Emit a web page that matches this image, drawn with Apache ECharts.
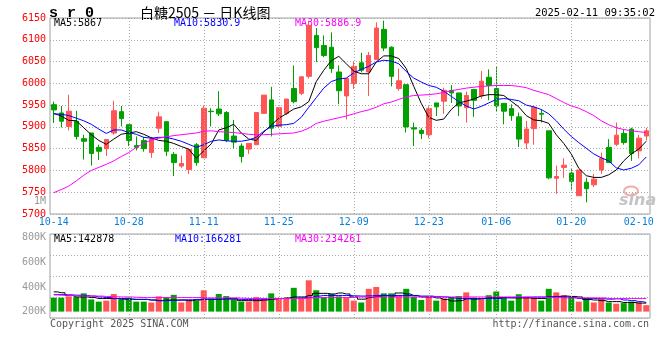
<!DOCTYPE html>
<html><head><meta charset="utf-8">
<script src="https://cdn.jsdelivr.net/npm/echarts@6/dist/echarts.min.js"></script>
<style>html,body{margin:0;padding:0;background:#fff}#c{width:660px;height:360px}</style>
</head><body><div id="c"></div>
<script>
// ---------- data ----------
const dates = [
 '2024-10-14','2024-10-15','2024-10-16','2024-10-17','2024-10-18','2024-10-21','2024-10-22','2024-10-23','2024-10-24','2024-10-25',
 '2024-10-28','2024-10-29','2024-10-30','2024-10-31','2024-11-01','2024-11-04','2024-11-05','2024-11-06','2024-11-07','2024-11-08',
 '2024-11-11','2024-11-12','2024-11-13','2024-11-14','2024-11-15','2024-11-18','2024-11-19','2024-11-20','2024-11-21','2024-11-22',
 '2024-11-25','2024-11-26','2024-11-27','2024-11-28','2024-11-29','2024-12-02','2024-12-03','2024-12-04','2024-12-05','2024-12-06',
 '2024-12-09','2024-12-10','2024-12-11','2024-12-12','2024-12-13','2024-12-16','2024-12-17','2024-12-18','2024-12-19','2024-12-20',
 '2024-12-23','2024-12-24','2024-12-25','2024-12-26','2024-12-27','2024-12-30','2024-12-31','2025-01-02','2025-01-03','2025-01-06',
 '2025-01-07','2025-01-08','2025-01-09','2025-01-10','2025-01-13','2025-01-14','2025-01-15','2025-01-16','2025-01-17','2025-01-20',
 '2025-01-21','2025-01-22','2025-01-23','2025-01-24','2025-01-27','2025-02-05','2025-02-06','2025-02-07','2025-02-10','2025-02-11'
];
const labelDates = ['2024-10-14','2024-10-28','2024-11-11','2024-11-25','2024-12-09','2024-12-23','2025-01-06','2025-01-20','2025-02-10'];
const gridDates  = ['2024-10-28','2024-11-11','2024-11-25','2024-12-09','2024-12-23','2025-01-06','2025-01-20'];

const opens  = [5951,5932,5901,5913,5873,5886,5853,5850,5886,5935, 5905,5857,5869,5841,5897,5912,5837,5810,5802,5859,
                5829,5936,5941,5933,5879,5856,5849,5859,5931,5962, 5901,5931,5988,5977,6016,6110,6087,6083,6026,5971,
                6000,6047,6026,6055,6124,6083,5988,5997,5898,5892, 5882,5955,5959,5984,5978,5944,5986,5971,6014,5988,
                5954,5942,5923,5863,5896,5931,5891,5782,5807,5794, 5742,5773,5767,5801,5853,5860,5885,5895,5845,5879];
const closes = [5939,5913,5936,5878,5867,5839,5844,5871,5937,5919, 5869,5853,5850,5872,5923,5844,5818,5816,5848,5818,
                5943,5935,5930,5869,5865,5832,5862,5933,5973,5897, 5944,5964,5958,6015,6133,6082,6064,6034,5983,6011,
                6039,6030,6064,6127,6081,6016,6006,5900,5895,5885, 5942,5946,5984,5978,5948,5972,5961,6005,5995,5948,
                5936,5926,5872,5895,5945,5929,5783,5786,5812,5775, 5801,5758,5780,5828,5818,5881,5864,5839,5874,5891];
const lows   = [5909,5899,5892,5871,5825,5811,5824,5833,5882,5901, 5856,5846,5843,5829,5886,5833,5787,5806,5792,5811,
                5829,5901,5925,5865,5851,5818,5838,5859,5931,5878, 5897,5927,5954,5973,6011,6049,6060,6024,5952,5917,
                5987,6025,5971,6055,6074,5993,5983,5887,5856,5872, 5874,5925,5930,5955,5925,5910,5923,5965,5961,5936,
                5906,5914,5854,5849,5859,5910,5780,5746,5783,5754, 5742,5727,5762,5792,5818,5856,5859,5822,5828,5869];
const highs  = [5958,5948,5974,5937,5882,5886,5859,5871,5960,5948, 5905,5878,5877,5877,5935,5912,5842,5834,5848,5863,
                5948,5943,5982,5936,5916,5862,5862,5933,5973,5992, 5944,5964,6041,6015,6144,6127,6110,6117,6041,6011,
                6049,6070,6072,6140,6144,6085,6034,5997,5910,5897, 5947,5955,5990,5996,5978,5981,5986,6028,6032,6039,
                5954,5952,5933,5914,5948,5940,5891,5811,5828,5803, 5801,5783,5792,5841,5872,5910,5895,5898,5882,5898];

const ma5  = [5931,5925,5915,5914,5898,5882,5869,5860,5872,5883, 5886,5889,5883,5875,5869,5867,5862,5855,5849,5828,
              5845,5861,5893,5898,5906,5886,5872,5869,5888,5904, 5920,5930,5941,5946,5958,6004,6030,6052,6062,6045,
              6028,6022,6022,6049,6063,6063,6057,6034,5993,5954, 5922,5915,5918,5940,5955,5959,5964,5971,5974,5974,
              5972,5959,5946,5926,5916,5914,5908,5882,5862,5838, 5805,5788,5784,5784,5790,5801,5822,5838,5849,5867];
const ma10 = [5930,5929,5926,5920,5914,5906,5895,5885,5893,5893, 5887,5883,5876,5874,5876,5876,5872,5867,5860,5853,
              5859,5867,5870,5868,5867,5867,5870,5876,5890,5901, 5904,5905,5908,5922,5945,5967,5989,6004,6010,6012,
              6024,6032,6039,6049,6053,6051,6045,6027,6012,6003, 5995,5991,5982,5970,5958,5948,5941,5947,5955,5963,
              5965,5963,5960,5950,5946,5940,5930,5914,5895,5878, 5864,5851,5838,5829,5822,5806,5801,5805,5813,5831];
const ma30 = [5749,5756,5764,5776,5789,5800,5807,5814,5822,5832, 5841,5853,5862,5870,5874,5877,5880,5882,5884,5886,
              5890,5891,5889,5888,5887,5885,5883,5882,5882,5883, 5884,5885,5886,5890,5897,5908,5913,5917,5921,5925,
              5930,5935,5939,5945,5953,5957,5963,5969,5972,5973, 5974,5976,5979,5983,5986,5989,5991,5993,5994,5995,
              5995,5995,5993,5990,5984,5979,5974,5965,5956,5948, 5943,5935,5926,5914,5905,5898,5894,5891,5889,5887];

const volume = [313,313,324,318,348,299,281,289,343,299, 313,281,281,274,324,318,336,274,289,289,
                373,306,343,326,299,281,281,318,306,348, 306,306,393,306,454,373,318,343,324,313,
                289,274,385,400,348,348,331,385,318,294, 324,289,306,318,326,356,313,306,333,363,
                318,289,341,318,318,289,385,356,333,318, 281,313,274,306,274,264,269,281,274,252].map(v => v * 1000);
const volMa5  = [360,353,331,319,319,314,306,306,306,301, 301,299,299,294,289,294,294,294,289,294,
                 301,301,301,306,306,289,289,289,294,301, 306,311,319,319,331,348,348,343,351,343,
                 319,301,314,323,331,323,351,343,331,319, 319,311,299,286,289,304,301,306,314,314,
                 314,311,311,311,306,306,319,323,326,323, 319,299,294,289,281,281,274,274,269,269].map(v => v * 1000);
const volMa10 = [338,338,336,333,331,326,319,314,306,306, 301,299,299,294,289,289,291,294,296,299,
                 299,299,301,301,301,299,299,301,301,306, 306,306,309,311,316,326,331,331,331,331,
                 328,326,328,331,331,331,331,331,328,326, 326,321,319,311,306,306,306,306,306,306,
                 311,314,314,316,319,319,319,319,319,314, 306,306,306,304,301,304,294,289,281,274].map(v => v * 1000);
const volMa30 = [336,333,331,328,326,326,326,323,321,319, 319,316,314,314,314,314,314,314,314,314,
                 311,311,311,311,311,309,306,306,306,306, 306,306,306,306,311,314,314,314,314,314,
                 319,319,319,319,319,319,319,319,319,319, 319,319,319,319,319,319,319,319,319,319,
                 319,319,319,319,314,314,314,314,311,311, 311,311,311,311,306,306,306,306,306,306].map(v => v * 1000);

const priceTicks = { min: 5700, max: 6150, step: 50 };
const volTickLabels = [200000, 400000, 600000, 800000];
const volBase = 200000;
const volAxisRange = { min: 148148, max: 829630 };

const codeText = 's r 0';
const titleText = '白糖2505 － 日K线图';
const timeText = '2025-02-11 09:35:02';
const maTexts = ['MA5:5867', 'MA10:5830.9', 'MA30:5886.9'];
const volMaTexts = ['MA5:142878', 'MA10:166281', 'MA30:234261'];
const extraVolLabel = '1M';
const copyText = 'Copyright 2025 SINA.COM';
const urlText = 'http://finance.sina.com.cn';

// ---------- chart ----------
const RED = '#ff5555', GREEN = '#00a000';
const MONO = '"DejaVu Sans Mono", monospace';
const candleData = dates.map((d, i) => [opens[i], closes[i], lows[i], highs[i]]);
const dotted = { color: '#aaaaaa', type: [1, 2], width: 1 };

const chart = echarts.init(document.getElementById('c'), null, { renderer: 'canvas' });

function txt(x, y, text, fill, font, align) {
  return { type: 'text', x: x, y: y, z: 0,
    style: { text: text, fill: fill, font: font, align: align || 'left', verticalAlign: 'middle' } };
}

const option = {
  animation: false,
  backgroundColor: '#ffffff',
  grid: [
    { left: 50, top: 18, width: 600, height: 196, show: true, borderColor: '#a0a0a0', borderWidth: 1, backgroundColor: 'transparent' },
    { left: 50, top: 234, width: 600, height: 84, show: true, borderColor: '#a0a0a0', borderWidth: 1, backgroundColor: 'transparent' }
  ],
  xAxis: [
    { type: 'category', gridIndex: 0, data: dates, boundaryGap: true,
      axisLine: { show: false }, axisTick: { show: false }, splitLine: { show: false },
      axisLabel: { interval: (i, v) => labelDates.indexOf(v) >= 0, formatter: v => v.slice(5),
        color: '#0a7fd6', fontSize: 10, fontFamily: MONO, margin: 3 } },
    { type: 'category', gridIndex: 1, data: dates, boundaryGap: true,
      axisLine: { show: false }, axisTick: { show: false }, splitLine: { show: false }, axisLabel: { show: false } }
  ],
  yAxis: [
    { type: 'value', gridIndex: 0, min: priceTicks.min, max: priceTicks.max, interval: priceTicks.step,
      axisLine: { show: false }, axisTick: { show: false },
      axisLabel: { color: '#ff0000', fontSize: 10, fontFamily: MONO, margin: 4, formatter: v => String(v) },
      splitLine: { show: true, lineStyle: dotted } },
    { type: 'value', gridIndex: 1, min: volAxisRange.min, max: volAxisRange.max,
      axisLine: { show: false }, axisTick: { show: false }, splitLine: { show: false },
      axisLabel: { customValues: volTickLabels, formatter: v => Math.round(v / 1000) + 'K',
        color: '#999999', fontSize: 10, fontFamily: MONO, margin: 4 } },
    { type: 'value', gridIndex: 1, min: 0, max: 4, interval: 1, position: 'right',
      axisLine: { show: false }, axisTick: { show: false }, axisLabel: { show: false },
      splitLine: { show: true, lineStyle: dotted } }
  ],
  series: [
    { type: 'line', xAxisIndex: 0, yAxisIndex: 0, data: [], z: 1, silent: true,
      markLine: { silent: true, symbol: 'none', label: { show: false }, lineStyle: dotted,
        data: gridDates.map(d => ({ xAxis: d })) } },
    { type: 'line', xAxisIndex: 1, yAxisIndex: 2, data: [], z: 1, silent: true,
      markLine: { silent: true, symbol: 'none', label: { show: false }, lineStyle: dotted,
        data: gridDates.map(d => ({ xAxis: d })) } },
    { type: 'candlestick', xAxisIndex: 0, yAxisIndex: 0, data: candleData, barWidth: 5, z: 2,
      itemStyle: { color: RED, color0: GREEN, borderColor: RED, borderColor0: GREEN, borderWidth: 1 } },
    { type: 'line', name: 'MA5', xAxisIndex: 0, yAxisIndex: 0, data: ma5, symbol: 'none', z: 3,
      lineStyle: { color: '#000000', width: 1 } },
    { type: 'line', name: 'MA10', xAxisIndex: 0, yAxisIndex: 0, data: ma10, symbol: 'none', z: 3,
      lineStyle: { color: '#0000ff', width: 1 } },
    { type: 'line', name: 'MA30', xAxisIndex: 0, yAxisIndex: 0, data: ma30, symbol: 'none', z: 3,
      lineStyle: { color: '#ff00ff', width: 1 } },
    { type: 'custom', xAxisIndex: 1, yAxisIndex: 1, z: 2,
      data: volume.map((v, i) => [i, v, closes[i] >= opens[i] ? 1 : 0]),
      encode: { x: 0, y: 1 },
      renderItem: function (params, api) {
        const top = api.coord([api.value(0), api.value(1)]);
        const base = api.coord([api.value(0), volBase]);
        const w = 6;
        return { type: 'rect', shape: { x: top[0] - w / 2, y: top[1], width: w, height: base[1] - top[1] },
          style: { fill: api.value(2) ? RED : GREEN } };
      } },
    { type: 'line', xAxisIndex: 1, yAxisIndex: 1, data: volMa5, step: 'middle', symbol: 'none', z: 3,
      lineStyle: { color: '#000000', width: 1 } },
    { type: 'line', xAxisIndex: 1, yAxisIndex: 1, data: volMa10, step: 'middle', symbol: 'none', z: 3,
      lineStyle: { color: '#0000ff', width: 1 } },
    { type: 'line', xAxisIndex: 1, yAxisIndex: 1, data: volMa30, step: 'middle', symbol: 'none', z: 3,
      lineStyle: { color: '#ff00ff', width: 1 } }
  ],
  graphic: [
    txt(49, 13, codeText, '#000', 'bold 15px "Liberation Mono", monospace'),
    txt(140, 13, titleText, '#000', '14px "Noto Sans CJK SC", sans-serif'),
    txt(655, 13, timeText, '#000', '10.5px ' + MONO, 'right'),
    txt(54, 23, maTexts[0], '#000000', '10px ' + MONO),
    txt(174, 23, maTexts[1], '#0000ff', '10px ' + MONO),
    txt(295, 23, maTexts[2], '#ff00ff', '10px ' + MONO),
    txt(54, 239, volMaTexts[0], '#000000', '10px ' + MONO),
    txt(175, 239, volMaTexts[1], '#0000ff', '10px ' + MONO),
    txt(295, 239, volMaTexts[2], '#ff00ff', '10px ' + MONO),
    txt(46, 201, extraVolLabel, '#999999', '10px ' + MONO, 'right'),
    txt(50, 324, copyText, '#555555', '10px ' + MONO),
    txt(649, 324, urlText, '#555555', '10px ' + MONO, 'right'),
    { type: 'ellipse', z: 0, shape: { cx: 631, cy: 191, rx: 7, ry: 4.5 },
      style: { fill: 'none', stroke: '#f2aaaa', lineWidth: 2 } },
    txt(619, 201, 'sina', '#c4c4c4', 'italic bold 16px "DejaVu Sans", sans-serif')
  ]
};
chart.setOption(option);
</script>
</body></html>
